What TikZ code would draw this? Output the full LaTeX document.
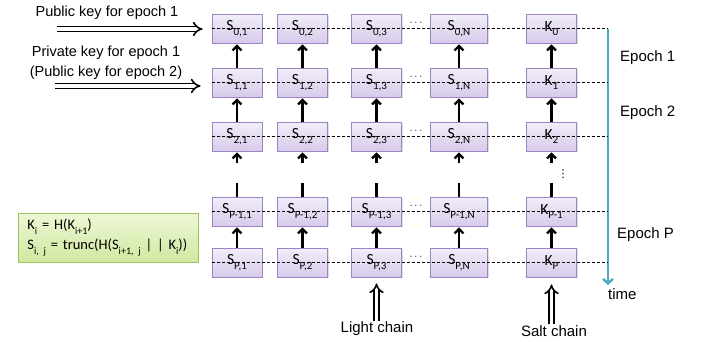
\documentclass[tikz,border=0pt]{standalone}
\usepackage{fontspec}
\setmainfont{Liberation Sans}
\newfontfamily\calib{Carlito}
\newfontfamily\djv{DejaVu Sans}
\usetikzlibrary{arrows.meta,shadows,calc}
\newcommand\csub[1]{\raisebox{-0.3em}{\fontsize{11}{11}\selectfont #1}}
\newcommand\gsub[1]{\raisebox{-0.3em}{\fontsize{10}{11}\selectfont #1}}
\definecolor{cellline}{RGB}{158,132,198}
\definecolor{celltop}{RGB}{242,238,249}
\definecolor{cellbot}{RGB}{214,203,234}
\definecolor{gline}{RGB}{160,192,95}
\definecolor{gtop}{RGB}{238,247,214}
\definecolor{gbot}{RGB}{208,232,160}
\definecolor{timeblue}{RGB}{75,172,198}
\begin{document}
\begin{tikzpicture}[x=1pt,y=-1pt,
  cell/.style={draw=cellline, line width=0.8pt, top color=celltop, bottom color=cellbot,
    minimum height=29pt, minimum width=50pt, inner sep=0pt,
    drop shadow={opacity=0.25, shadow xshift=1pt, shadow yshift=-1.2pt},
    font=\calib\fontsize{15.5}{15.5}\selectfont},
  arr/.style={line width=2.2pt, -{Straight Barb[length=4.5pt,width=9pt]}, shorten >=1pt},
  stub/.style={line width=2.2pt},
  dsh/.style={dashed, dash pattern=on 3pt off 2pt, line width=0.6pt},
  dbl/.style={line width=1.6pt, double distance=3.2pt, -{Implies[length=6pt,width=13pt]}},
  lab/.style={font=\fontsize{14.5}{20}\selectfont, inner sep=1pt},
  elab/.style={font=\fontsize{15}{18}\selectfont, inner sep=0pt, anchor=west},
  dots/.style={font=\fontsize{11}{11}\selectfont, inner sep=0pt}
]
\useasboundingbox (0,0) rectangle (710,341);

% cells
\foreach \r/\y/\ri in {0/28.5/0, 1/82.5/1, 2/136.5/2, q/211.5/P-1, p/262.5/P}{
  \foreach \c/\x/\ci/\w in {1/237/1/50, 2/302.5/2/50, 3/376.5/3/50, n/459/N/57}{
    \node[cell, minimum width=\w pt] (s\r\c) at (\x,\y) {S\csub{\ri,\ci}};
  }
  \node[cell] (k\r) at (551.5,\y) {K\csub{\ri}};
}

% vertical arrows
\foreach \c in {s01/s11/s21/sq1/sp1, s02/s12/s22/sq2/sp2, s03/s13/s23/sq3/sp3, s0n/s1n/s2n/sqn/spn, k0/k1/k2/kq/kp}{
  \foreach \a/\b/\cc/\d/\e in \c {
    \draw[arr] (\b) -- (\a);
    \draw[arr] (\cc) -- (\b);
    \draw[arr] ($(\cc.south)+(0,12)$) -- (\cc.south);
    \draw[stub] (\d.north) -- ++(0,-14);
    \draw[arr] (\e) -- (\d);
  }
}

% dots
\foreach \r in {0,1,2,q,p}{
  \node[dots] at ($(s\r3.north east)!0.5!(s\r n.north west)+(0,9)$) {$\cdots$};
}
\node[font=\djv\fontsize{11}{11}\selectfont, inner sep=0pt] (vd) at (563,174) {⋮};

% time line
\coordinate (tt) at (608,29);
\coordinate (tb) at (608,285);
\draw[timeblue, line width=2.4pt, -{Straight Barb[length=4.5pt,width=10pt]}] (tt) -- (tb);

% dashed lines
\foreach \r in {0,1,2,q,p}{
  \draw[dsh] (s\r1.west) -- (s\r1.west -| tt);
}

% epoch labels
\node[elab] (e1) at (620,58) {Epoch 1};
\node[elab] (e2) at (620,113) {Epoch 2};
\node[elab] (ep) at (617,235) {Epoch P};
\node[elab] (tm) at (608,294) {time};

% left labels
\node[lab] (pub) at (107,13) {Public key for epoch 1};
\node[lab, align=center] (priv) at (106,63) {Private key for epoch 1\\(Public key for epoch 2)};
\coordinate (a0) at (57,29);
\coordinate (a1) at (55,86);
\draw[dbl, shorten >=9pt] (a0) -- (s01.west |- a0);
\draw[dbl, shorten >=11pt] (a1) -- (s11.west |- a1);

% chains
\node[lab, font=\fontsize{15}{18}\selectfont] (lc) at (377,329) {Light chain};
\node[lab, font=\fontsize{15}{18}\selectfont] (sc) at (554,331) {Salt chain};
\draw[dbl, shorten >=6pt] (lc.north -| sp3.south) -- (sp3.south);
\draw[dbl, shorten >=7pt] (sc.north -| kp.south) -- (kp.south);

% formula box
\node[draw=gline, line width=0.8pt, top color=gtop, bottom color=gbot,
  minimum width=180pt, minimum height=49pt, inner xsep=9pt, align=left, anchor=west,
  drop shadow={opacity=0.25, shadow xshift=1pt, shadow yshift=-1.2pt},
  font=\calib\fontsize{14.5}{20}\selectfont, text width=162pt] (fb) at (18,237.5)
  {\mbox{K\gsub{i} = H(K\gsub{i+1})}\\\mbox{S\gsub{i, j} = trunc(H(S\gsub{i+1, j} | | K\gsub{i}))}};
\end{tikzpicture}
\end{document}
